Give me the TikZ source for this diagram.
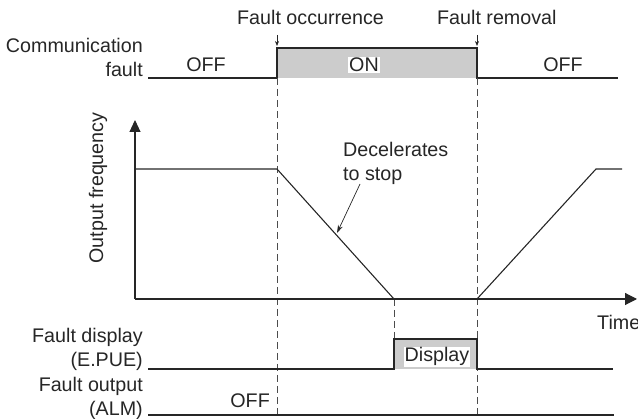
\documentclass[tikz,border=0pt]{standalone}
\usepackage{fontspec}
\setmainfont{Liberation Sans}
\usetikzlibrary{arrows.meta}

\begin{document}
\begin{tikzpicture}[x=1pt,y=-1pt,
    sig/.style={line width=1.1pt, black!85},
    guide/.style={line width=0.7pt, black!70, dash pattern=on 7pt off 4pt},
    txt/.style={font=\fontsize{19.7}{24}\selectfont, text=black!85, inner sep=0pt},
    onfill/.style={fill=black!20},
    pointer/.style={line width=0.7pt, black!85, -{Stealth[length=5pt,width=4pt]}}]
    \useasboundingbox (0,0) rectangle (638,419);

    % instants
    \coordinate (occ) at (277,78);
    \coordinate (rem) at (477,78);
    \coordinate (stop) at (394,299);

    % communication fault
    \fill[onfill] (277,48) rectangle (477,78);
    \draw[sig] (148,78) -- (occ) -- (277,48) -- (477,48) -- (rem) -- (618,78);
    \node[txt, anchor=base west] (occlbl) at (237,25) {Fault occurrence};
    \node[txt, anchor=base west] (remlbl) at (437,25) {Fault removal};
    \draw[pointer] (277,35) -- (277,46);
    \draw[pointer] (477,35) -- (477,46);
    \node[txt, anchor=base east, align=right] (comm) at (143,77) {Communication\\fault};
    \node[txt, anchor=base] (off1) at (206,72) {OFF};
    \node[txt, anchor=base, fill=white, inner sep=1pt] (on) at (364,72) {ON};
    \node[txt, anchor=base] (off2) at (563,72) {OFF};

    % guides
    \draw[guide] (occ) -- (277,419);
    \draw[guide] (rem) -- (477,419);
    \draw[guide] (stop) -- (394,339);

    % output frequency
    \coordinate (orig) at (135,299);
    \draw[sig, -{Triangle[length=12pt,width=11pt]}] (orig) -- (135,120);
    \draw[sig, -{Triangle[length=12pt,width=12pt]}] (orig) -- (637,299);
    \draw[sig] (135,169) -- (277,169) -- (stop);
    \draw[sig] (477,299) -- (596,169) -- (622,169);
    \node[txt, rotate=90] (freq) at (98,188) {Output frequency};
    \node[txt, anchor=base west] (time) at (597,330) {Time};
    \node[txt, anchor=base west, align=left] (dec) at (343,181) {Decelerates\\to stop};
    \coordinate (decfrom) at (360,184);
    \coordinate (decto) at (337,233);
    \draw[line width=0.7pt, black!85, -{Stealth[length=8pt,width=5pt]}] (decfrom) -- (decto);

    % fault display
    \fill[onfill] (394,339) rectangle (477,369);
    \draw[sig] (148,369) -- (394,369) -- (394,339) -- (477,339) -- (477,369) -- (613,369);
    \node[txt, anchor=base east, align=right] (disp) at (143,367) {Fault display\\(E.PUE)};
    \node[txt, anchor=base, fill=white, inner sep=1pt] (displbl) at (437,362) {Display};

    % fault output
    \draw[sig] (148,415) -- (614,415);
    \node[txt, anchor=base east, align=right] (alm) at (143,416) {Fault output\\(ALM)};
    \node[txt, anchor=base east] (off3) at (270,408) {OFF};
\end{tikzpicture}
\end{document}
